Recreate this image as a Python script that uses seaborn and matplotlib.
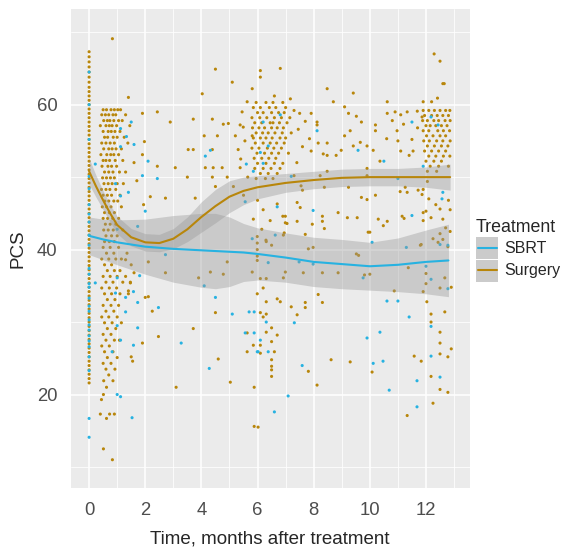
import pandas as pd
import seaborn as sns
import matplotlib.pyplot as plt
from matplotlib.patches import Rectangle
from matplotlib.lines import Line2D

# ---- data ----
# surgery patients measured at time 0 (one dense column)
surg_t0 = [67.3, 66.6, 65.9, 65.2, 64.5, 63.8, 63.1, 62.4, 61.8, 61.2, 60.6, 60.0,
           59.4, 58.8, 58.2, 57.6, 57.0, 56.4, 55.8, 55.2, 54.6, 54.0, 53.4, 52.8,
           52.2, 51.6, 51.0, 50.4, 49.8, 49.2, 48.6, 48.0, 47.4, 46.8, 46.2, 45.6,
           45.0, 44.4, 43.8, 43.2, 42.6, 42.0, 41.4, 40.8, 40.2, 39.6, 39.0, 38.4,
           37.8, 37.2, 36.6, 36.0, 35.4, 34.8, 34.2, 33.6, 33.0, 32.4, 31.8, 31.2,
           30.6, 30.0, 29.4, 28.8, 28.2, 27.6, 27.0, 26.4, 25.8, 25.2, 24.6, 24.0,
           23.4, 22.8, 22.2, 21.6]
sbrt_t0 = [64.5, 60.0, 55.2, 50.1, 48.4, 46.2, 44.9, 43.8, 42.0, 40.6, 37.4, 36.6,
           35.3, 34.8, 33.3, 32.2, 31.5, 30.3, 29.6, 28.9, 28.1, 27.4, 26.6, 25.2,
           23.3, 16.7, 14.1]

# surgery, ~1 month visit: PCS value -> times
surg_1m = {
    59.3: [0.5, 0.62, 0.78, 0.9, 1.02, 1.12], 58.6: [0.45, 0.58, 0.7, 0.85, 0.95, 1.3],
    57.8: [0.52, 0.65, 0.74, 0.88, 1.05, 1.18], 57.1: [0.4, 0.6, 0.72, 0.82, 0.98, 1.45],
    56.3: [0.5, 0.68, 0.79, 0.92, 1.1], 55.5: [0.55, 0.66, 0.86, 1.0, 1.25],
    54.7: [0.45, 0.6, 0.75, 0.9, 1.38], 53.9: [0.52, 0.7, 0.82, 0.96, 1.15],
    53.1: [0.42, 0.63, 0.77, 0.88, 1.05], 52.3: [0.5, 0.6, 0.73, 0.93, 1.2],
    51.5: [0.46, 0.67, 0.8, 0.98], 50.7: [0.55, 0.7, 0.85, 1.08, 1.3],
    49.9: [0.48, 0.62, 0.76, 0.9], 49.1: [0.53, 0.68, 0.82, 1.0, 1.22],
    48.3: [0.44, 0.6, 0.74, 0.95], 47.5: [0.5, 0.65, 0.8, 1.1],
    46.7: [0.56, 0.7, 0.88, 1.02], 45.9: [0.47, 0.62, 0.78, 1.15],
    45.1: [0.55, 0.72, 0.9], 44.3: [0.5, 0.66, 0.84, 1.05], 43.5: [0.58, 0.75, 0.95],
    42.7: [0.52, 0.68, 0.86, 1.2], 41.9: [0.6, 0.8, 1.0], 41.1: [0.55, 0.72, 0.9],
    40.3: [0.5, 0.75, 1.05], 39.5: [0.62, 0.88, 1.35], 38.7: [0.45, 0.7, 0.95, 1.15],
    37.9: [0.55, 0.8, 1.5], 37.1: [0.65, 0.9, 1.1], 36.3: [0.5, 0.75, 1.0, 1.3],
    35.5: [0.6, 0.85, 1.2, 1.47], 34.7: [0.45, 0.72, 0.98], 33.9: [0.55, 0.8, 1.1, 1.4],
    33.1: [0.65, 0.92], 32.3: [0.5, 0.78, 1.05], 31.5: [0.6, 0.88], 30.7: [0.45, 0.7, 1.0],
    29.9: [0.55, 0.82, 1.15], 29.1: [0.65, 0.95], 28.3: [0.5, 0.78], 27.5: [0.6, 0.9, 1.08],
    26.7: [0.45, 0.72], 25.9: [0.55, 0.85], 25.1: [0.65, 1.0], 24.3: [0.5, 0.78],
    23.5: [0.6, 0.92], 22.7: [0.7], 21.9: [0.52, 0.85], 21.0: [0.62], 20.0: [0.51],
    19.3: [0.44], 17.3: [0.4, 0.73, 0.9], 16.7: [0.62], 12.5: [0.51], 11.0: [0.83],
}

# surgery, ~6 month visit
surg_6m = {
    60.3: [5.95, 6.3, 6.55, 6.9], 59.6: [5.85, 6.1, 6.42, 6.65, 7.0],
    58.9: [6.0, 6.2, 6.5, 6.75, 6.95], 58.2: [5.8, 6.08, 6.33, 6.6, 6.85, 7.15],
    57.5: [5.9, 6.15, 6.45, 6.55, 6.78, 7.05], 56.8: [5.82, 6.05, 6.25, 6.5, 6.7, 6.92],
    56.1: [5.95, 6.18, 6.38, 6.62, 6.88, 7.2], 55.4: [5.85, 6.1, 6.3, 6.52, 6.8, 7.0],
    54.7: [5.92, 6.2, 6.45, 6.68, 6.95], 54.0: [5.8, 6.05, 6.35, 6.58, 6.85],
    53.3: [5.98, 6.25, 6.5, 6.75, 7.1], 52.6: [5.88, 6.15, 6.4, 6.65],
    51.9: [6.0, 6.3, 6.6, 6.9], 51.2: [5.9, 6.2, 6.48, 6.8], 50.5: [6.1, 6.38, 6.7],
    49.8: [5.95, 6.28, 6.55],
}

# surgery, ~12 month visit
surg_12m = {
    59.2: [11.9, 12.1, 12.3, 12.5, 12.7, 12.85], 58.5: [11.95, 12.2, 12.4, 12.6, 12.8],
    57.8: [11.88, 12.05, 12.28, 12.45, 12.68, 12.86], 57.1: [12.0, 12.15, 12.35, 12.55, 12.75],
    56.4: [11.9, 12.1, 12.42, 12.62, 12.84], 55.7: [12.02, 12.25, 12.5, 12.7],
    55.0: [11.92, 12.12, 12.38, 12.6, 12.86], 54.3: [12.05, 12.3, 12.55, 12.78],
    53.6: [11.95, 12.2, 12.45, 12.7], 52.9: [12.1, 12.35, 12.62, 12.85],
    52.2: [12.0, 12.28, 12.55], 51.5: [12.15, 12.45, 12.8], 50.8: [12.05, 12.38],
}

# remaining scattered surgery points (time, PCS)
surg_other = [
    (0.83, 69.1), (1.4, 61.0), (2.43, 59.0), (1.9, 58.8), (1.97, 54.9), (1.9, 53.1),
    (2.43, 51.5), (2.18, 47.3), (1.94, 46.2), (1.6, 52.0), (1.7, 49.5),
    (1.47, 35.4), (1.4, 34.3), (2.11, 33.5), (2.25, 31.5), (2.47, 28.0), (1.9, 27.1),
    (1.5, 25.2), (1.55, 24.6), (1.3, 38.6), (1.6, 36.8),
    (4.5, 64.9), (5.1, 63.1), (4.03, 61.5), (5.81, 62.2), (5.63, 60.4), (3.71, 58.0),
    (4.39, 58.0), (4.78, 57.3), (2.89, 57.6), (4.96, 57.4), (5.38, 57.2), (5.49, 56.9),
    (4.1, 55.7), (4.57, 55.7), (5.21, 55.7), (5.81, 55.7), (3.53, 53.8), (3.71, 53.8),
    (4.39, 53.8), (5.31, 53.8), (4.14, 51.3), (4.42, 51.3), (4.74, 51.3), (3.07, 51.3),
    (5.38, 51.3), (3.5, 50.0), (4.39, 50.0), (4.92, 50.0), (4.5, 48.7), (5.14, 48.7),
    (3.78, 47.1), (2.72, 47.1), (5.45, 59.0), (5.55, 55.0), (5.4, 52.5), (5.65, 50.0),
    (5.5, 47.5),
    (2.11, 38.3), (2.72, 36.8), (3.9, 36.1), (4.32, 36.9), (4.78, 36.6), (4.92, 38.3),
    (5.81, 36.9), (2.0, 33.4), (3.71, 29.1), (4.5, 31.3), (4.6, 24.9), (3.1, 21.0),
    (5.03, 21.7), (5.63, 28.5), (5.85, 26.8), (5.88, 21.0), (5.88, 15.6), (6.02, 15.5),
    (5.63, 25.9),
    (6.1, 64.7), (6.1, 63.8), (6.81, 65.0), (6.6, 61.2), (7.17, 60.8), (7.3, 59.2),
    (7.45, 56.6), (7.6, 54.2), (7.4, 52.0), (7.7, 57.7), (7.85, 55.3), (7.3, 50.2),
    (7.55, 48.8), (7.5, 58.8),
    (6.0, 46.8), (6.2, 45.5), (6.45, 44.0), (6.7, 46.3), (6.9, 44.6), (7.05, 43.6),
    (6.95, 42.3), (6.15, 42.8), (5.85, 44.2), (6.3, 41.3), (5.99, 41.8), (5.99, 40.9),
    (5.99, 40.0), (5.99, 39.1), (5.99, 38.5),
    (6.31, 41.1), (6.5, 40.6), (6.92, 42.0), (7.7, 42.1), (7.81, 40.1), (7.98, 40.3),
    (10.0, 42.4), (9.52, 39.4), (9.6, 39.2), (8.87, 36.8), (8.31, 36.8), (7.63, 36.8),
    (6.99, 36.9), (6.92, 36.1), (6.31, 36.0), (6.1, 36.0), (6.2, 34.7), (5.99, 33.9),
    (6.7, 33.2), (6.81, 32.8), (6.31, 32.8), (7.2, 32.1), (7.7, 32.7), (7.7, 32.0),
    (7.41, 31.0), (8.16, 33.8), (8.31, 32.7), (6.1, 31.3), (6.31, 31.1), (6.2, 30.7),
    (6.31, 28.6), (6.5, 29.2), (6.5, 27.3), (6.7, 28.2), (6.6, 25.9), (6.5, 24.8),
    (6.5, 23.9), (6.5, 23.4), (6.5, 22.5), (6.1, 26.8), (6.1, 25.7), (7.81, 23.2),
    (8.12, 21.3), (8.62, 24.8), (9.3, 24.5), (10.08, 23.1),
    (8.48, 62.2), (9.41, 61.6), (8.7, 60.4), (10.62, 60.4), (9.1, 59.7), (9.24, 58.8),
    (9.52, 58.4), (9.7, 57.6), (10.2, 57.2), (10.62, 58.8), (10.9, 59.0), (11.1, 58.6),
    (11.33, 59.0), (11.69, 59.1), (11.86, 58.3), (10.97, 56.4), (10.2, 56.4), (9.3, 56.4),
    (9.1, 55.7), (9.66, 54.8), (9.9, 54.3), (9.41, 54.3), (10.12, 53.7), (11.1, 53.6),
    (11.54, 53.6), (8.48, 53.0), (8.8, 53.0), (8.98, 53.7), (8.16, 54.7), (7.91, 53.6),
    (8.34, 53.2), (7.91, 58.8), (8.12, 57.6), (8.12, 57.2), (8.48, 54.7), (10.36, 52.2),
    (9.9, 51.2), (8.48, 50.8), (8.23, 50.2), (9.9, 50.2), (11.2, 57.3), (11.5, 55.2),
    (11.0, 55.0), (11.4, 53.0), (11.7, 56.8), (10.8, 57.8), (10.6, 55.3),
    (11.26, 48.6), (11.08, 48.0), (11.33, 47.9), (11.72, 48.2), (11.86, 47.6), (9.7, 47.2),
    (9.9, 46.9), (10.2, 47.5), (9.24, 48.6), (8.38, 48.6), (7.6, 48.2), (7.41, 46.5),
    (7.52, 45.8), (6.99, 44.6), (6.99, 43.7), (7.41, 43.9), (7.95, 43.5), (8.31, 44.6),
    (8.31, 43.9), (8.87, 45.1), (9.2, 44.4), (9.55, 44.4), (10.3, 44.2), (10.48, 43.3),
    (10.62, 43.9), (11.15, 44.6), (11.22, 44.3), (11.9, 45.1), (11.9, 44.0), (12.18, 44.4),
    (9.94, 42.4), (8.38, 42.9), (11.83, 40.7), (12.25, 41.5), (12.43, 41.0), (12.6, 41.4),
    (12.78, 40.4),
    (12.29, 67.0), (12.5, 66.0), (12.6, 62.9), (12.65, 62.9), (12.41, 60.9), (11.9, 60.4),
    (12.2, 60.4), (12.05, 49.4), (11.9, 48.3), (12.1, 47.0), (12.35, 46.2), (12.5, 45.6),
    (12.6, 44.2), (12.7, 43.0), (12.8, 46.8), (12.0, 45.3), (12.86, 45.5), (12.86, 42.5),
    (10.87, 34.3), (11.58, 25.3), (11.83, 24.6), (12.18, 22.5), (12.5, 20.7), (12.78, 20.3),
    (12.25, 18.8), (11.33, 17.1), (12.03, 32.8), (12.18, 31.1), (12.18, 30.0), (12.5, 28.6),
    (12.5, 27.1), (12.5, 25.6), (12.9, 26.3), (12.78, 25.2), (12.67, 31.4), (11.9, 34.2),
    (12.0, 35.3), (12.0, 36.7), (11.8, 40.6), (11.37, 37.5), (12.5, 42.2), (12.67, 36.1),
    (12.5, 34.7), (12.9, 34.8), (9.81, 36.5), (10.0, 36.6),
]

# SBRT points away from time 0 (time, PCS)
sbrt_other = [
    (0.22, 51.8), (1.12, 56.7), (1.33, 55.6), (1.5, 57.6), (1.12, 54.2), (1.6, 54.5),
    (2.1, 52.2), (1.9, 50.2), (2.43, 49.8), (0.94, 49.1), (1.4, 47.9), (1.12, 47.4),
    (2.0, 45.3), (1.73, 43.2), (1.0, 42.8),
    (0.22, 35.4), (1.0, 36.1), (0.94, 34.0), (1.3, 33.4), (1.58, 34.2), (1.8, 36.4),
    (1.73, 32.7), (1.3, 31.4), (1.0, 29.5), (1.73, 29.2), (2.47, 32.0), (1.12, 27.5),
    (1.58, 26.8), (0.82, 25.9), (1.0, 20.0), (1.12, 19.7), (1.53, 16.8),
    (3.28, 27.1), (4.28, 23.6), (4.5, 33.4), (4.1, 35.0), (2.72, 39.3), (5.1, 31.1),
    (5.7, 31.4), (5.88, 31.4), (5.56, 28.5), (6.02, 25.9),
    (4.32, 53.7), (4.14, 52.9), (5.6, 51.8), (5.56, 46.6), (5.85, 50.8), (5.81, 41.5),
    (6.81, 58.6), (6.2, 57.6), (6.38, 54.3), (6.1, 53.4), (6.2, 51.9), (8.12, 56.4),
    (9.58, 53.7), (10.5, 52.2), (11.5, 57.6), (12.18, 58.3), (12.43, 57.2), (11.9, 51.5),
    (11.0, 49.8), (12.6, 47.9), (12.57, 47.0), (11.5, 44.7), (7.98, 45.4), (6.7, 45.9),
    (7.2, 50.1), (10.08, 41.0), (11.3, 40.3), (12.5, 40.7), (12.78, 40.6), (6.63, 42.0),
    (12.0, 37.7), (12.18, 35.9), (12.78, 34.6),
    (5.88, 28.5), (6.1, 27.5), (5.99, 25.9), (6.38, 25.9), (6.31, 30.0), (6.38, 38.2),
    (7.48, 38.3), (7.98, 38.0), (7.31, 29.9), (7.59, 24.0), (7.09, 19.8), (6.6, 17.6),
    (9.76, 36.1), (10.61, 32.9), (11.0, 32.9), (9.9, 27.8), (10.36, 28.6), (10.12, 24.3),
    (10.47, 24.6), (10.69, 20.6), (11.4, 30.7), (11.68, 21.9), (11.68, 18.3),
    (12.18, 29.4), (12.18, 25.3), (12.5, 22.4),
]

# loess fits and half-widths of the grey bands
surg_fit_t = [0, 0.25, 0.5, 0.75, 1, 1.5, 2, 2.5, 3, 3.5, 4, 4.5, 5, 5.5, 6, 7, 8, 9,
              10, 11, 12, 12.86]
surg_fit = [50.8, 48.7, 46.8, 45.0, 43.4, 41.7, 41.0, 40.9, 41.5, 42.8, 44.5, 46.0,
            47.3, 48.1, 48.6, 49.2, 49.6, 49.9, 50.0, 50.0, 50.0, 50.0]
surg_hw = [1.8, 1.5, 1.3, 1.2, 1.2, 1.2, 1.2, 1.2, 1.4, 1.7, 2.1, 2.3, 2.2, 1.9, 1.6,
           1.3, 1.2, 1.2, 1.2, 1.2, 1.4, 1.8]
sbrt_fit_t = [0, 0.5, 1, 2, 3, 4, 4.5, 5, 5.5, 6, 7, 8, 9, 10, 11, 12, 12.8]
sbrt_fit = [41.9, 41.4, 41.0, 40.4, 40.1, 39.9, 39.8, 39.7, 39.6, 39.4, 38.9, 38.3,
            38.0, 37.7, 37.9, 38.3, 38.5]
sbrt_hw = [2.6, 2.8, 3.1, 3.8, 4.6, 5.1, 5.2, 4.8, 4.0, 3.6, 3.4, 3.4, 3.4, 3.3, 3.7,
           4.4, 5.0]

groups = ["SBRT", "Surgery"]
colors = {"SBRT": "#27B2E1", "Surgery": "#B8860B"}

# ---- build long table ----
rows = []
rows += [(0.0, y, "Surgery") for y in surg_t0]
rows += [(0.0, y, "SBRT") for y in sbrt_t0]
for d in (surg_1m, surg_6m, surg_12m):
    for y, xs in d.items():
        rows += [(x, y, "Surgery") for x in xs]
rows += [(x, y, "Surgery") for x, y in surg_other]
rows += [(x, y, "SBRT") for x, y in sbrt_other]
df = pd.DataFrame(rows, columns=["time", "pcs", "treatment"])

fits = pd.concat([
    pd.DataFrame({"time": surg_fit_t, "pcs": surg_fit, "hw": surg_hw, "treatment": "Surgery"}),
    pd.DataFrame({"time": sbrt_fit_t, "pcs": sbrt_fit, "hw": sbrt_hw, "treatment": "SBRT"}),
])

# ---- plot ----
sns.set_style("darkgrid", {"axes.facecolor": "#EBEBEB", "grid.color": "white"})
plt.rcParams["font.family"] = ["Liberation Sans", "DejaVu Sans"]

W, H = 570, 548
fig = plt.figure(figsize=(W / 100, H / 100), dpi=100)
ax = fig.add_axes([71 / W, 1 - 488 / H, 398.5 / W, 479 / H])

sns.scatterplot(data=df, x="time", y="pcs", hue="treatment", palette=colors,
                s=5, linewidth=0, legend=False, ax=ax, zorder=2)

for name in groups:
    f = fits[fits.treatment == name]
    ax.fill_between(f.time, f.pcs - f.hw, f.pcs + f.hw, color="#999999", alpha=0.4,
                    linewidth=0, zorder=3)
sns.lineplot(data=fits, x="time", y="pcs", hue="treatment", palette=colors,
             linewidth=1.5, legend=False, ax=ax, zorder=4, sort=True)

ax.set_xlim(-0.645, 13.55)
ax.set_ylim(7.1, 73.2)
ax.set_xticks([0, 2, 4, 6, 8, 10, 12])
ax.set_yticks([20, 40, 60])
ax.set_xticks([1, 3, 5, 7, 9, 11, 13], minor=True)
ax.set_yticks([10, 30, 50, 70], minor=True)
ax.grid(which="major", color="white", linewidth=1.1)
ax.grid(which="minor", color="white", linewidth=0.55)
ax.set_axisbelow(True)
for s in ax.spines.values():
    s.set_visible(False)
ax.tick_params(which="major", length=4.3, width=0.8, color="#333333",
               labelsize=13.3, labelcolor="#4D4D4D", pad=5.5)
ax.tick_params(which="minor", length=0)
ax.set_xlabel("Time, months after treatment", fontsize=13.5, labelpad=8.5)
ax.set_ylabel("PCS", fontsize=13.5, labelpad=7)

# legend drawn as in ggplot: grey key with the line across it
fig.text(476 / W, 1 - 232 / H, "Treatment", fontsize=12.8, va="baseline", ha="left")
for i, name in enumerate(groups):
    top = 237.5 + 22 * i
    fig.add_artist(Rectangle((476 / W, 1 - (top + 22) / H), 22 / W, 22 / H,
                             transform=fig.transFigure, facecolor="#CBCBCB",
                             edgecolor="none"))
    yc = 1 - (top + 11) / H
    fig.add_artist(Line2D([477.5 / W, 496.5 / W], [yc, yc], transform=fig.transFigure,
                          color=colors[name], linewidth=1.5))
    fig.text(504 / W, yc, name, fontsize=11.5, va="center", ha="left")

fig.savefig("out.png", dpi=100)
